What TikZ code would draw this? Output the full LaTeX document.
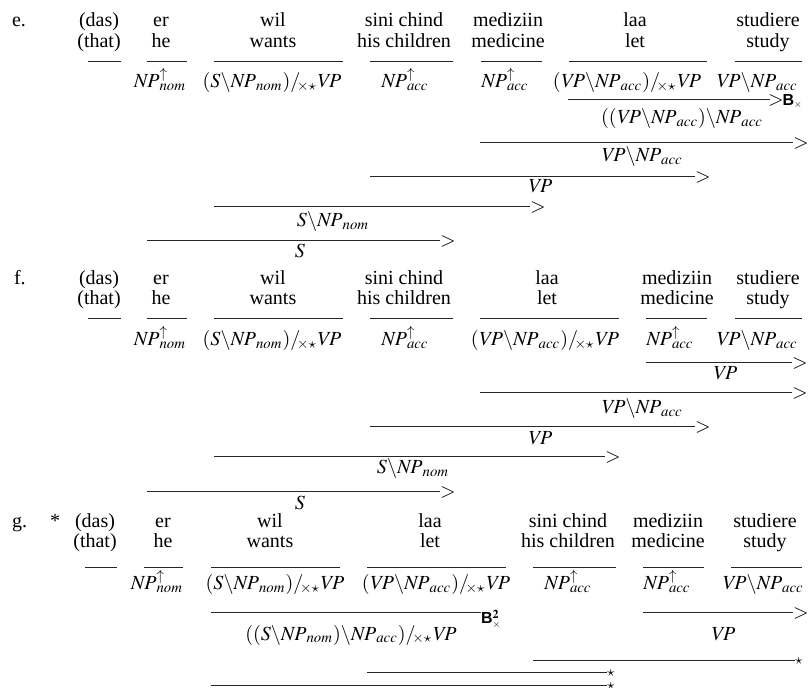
\documentclass[tikz,border=0pt]{standalone}
\usepackage{mathptmx}
\usepackage{fontspec}
\setmainfont{Liberation Serif}
\setsansfont{Liberation Sans}
\newcommand\ccgrule[4]{\coordinate (#1L) at (#2,#4); \coordinate (#1R) at (#3,#4); \draw[rl] (#1L) -- (#1R);}
\newcommand\ccgfwd[1]{\node[tip] (#1G) at (#1R) {$>$};}
\newcommand\ccgstar[1]{\node[tip] (#1G) at (#1R) {$\scriptstyle\star$};}
\newcommand\xsl{/_{\!\!\times\star}}
\newcommand\bs{\backslash}
\newcommand\cVP{\mathit{VP}}
\newcommand\cNP{\mathit{NP}}
\newcommand\cS{\mathit{S}}
\newcommand\nomi{_{\mathit{nom}}}
\newcommand\accu{_{\mathit{acc}}}
\begin{document}
\begin{tikzpicture}[x=0.5pt,y=-0.5pt,font=\fontsize{10}{11}\selectfont,
  wd/.style={anchor=base,inner sep=0pt,outer sep=0pt},
  rl/.style={line width=0.5pt,draw=black!85},
  tip/.style={anchor=west,inner sep=0pt,outer sep=0pt},
  rul/.style={anchor=base west,inner sep=0pt,outer sep=0pt,font=\footnotesize\sffamily\bfseries}]
\useasboundingbox (0,0) rectangle (808,688);
% ---------------- e ----------------
\node[wd,anchor=base west] (eLab) at (12,27) {e.};
\node[wd] (eW1a) at (99,27) {(das)}; \node[wd] (eW1b) at (99,48) {(that)};
\ccgrule{eX1}{88}{121}{62}
\node[wd] (eW2a) at (161,27) {er}; \node[wd] (eW2b) at (161,48) {he};
\ccgrule{eX2}{147}{187}{62}
\node[wd] (eC2) at (160,88) {$\cNP^{\uparrow}\nomi$};
\node[wd] (eW3a) at (273,27) {wil}; \node[wd] (eW3b) at (273,48) {wants};
\ccgrule{eX3}{214}{343}{62}
\node[wd] (eC3) at (272,88) {$(\cS\bs \cNP\nomi)\xsl \cVP$};
\node[wd] (eW4a) at (404,27) {sini chind}; \node[wd] (eW4b) at (404,48) {his children};
\ccgrule{eX4}{370}{453}{62}
\node[wd] (eC4) at (405,88) {$\cNP^{\uparrow}\accu$};
\node[wd] (eW5a) at (508,27) {mediziin}; \node[wd] (eW5b) at (508,48) {medicine};
\ccgrule{eX5}{481}{542}{62}
\node[wd] (eC5) at (505,88) {$\cNP^{\uparrow}\accu$};
\node[wd] (eW6a) at (635,27) {laa}; \node[wd] (eW6b) at (635,48) {let};
\ccgrule{eX6}{569}{707}{62}
\node[wd] (eC6) at (627,88) {$(\cVP\bs \cNP\accu)\xsl \cVP$};
\node[wd] (eW7a) at (768,27) {studiere}; \node[wd] (eW7b) at (768,48) {study};
\ccgrule{eX7}{735}{802}{62}
\node[wd] (eC7) at (757,88) {$\cVP\bs \cNP\accu$};
\ccgrule{eD1}{568}{770}{100}
\node[tip,xshift=-1pt] (eD1G) at (eD1R) {$>$};
\node[rul,xshift=-0.5pt] (eD1B) at (eD1G.base east) {B$_{\scriptscriptstyle\times}$};
\node[wd] (eD1T) at (682,124) {$((\cVP\bs \cNP\accu)\bs \cNP\accu$};
\ccgrule{eD2}{480}{793}{143}\ccgfwd{eD2}
\node[wd] (eD2T) at (642,162) {$\cVP\bs \cNP\accu$};
\ccgrule{eD3}{370}{695}{177}\ccgfwd{eD3}
\node[wd] (eD3T) at (540,193) {$\cVP$};
\ccgrule{eD4}{214}{530}{207}\ccgfwd{eD4}
\node[wd] (eD4T) at (333,227) {$\cS\bs \cNP\nomi$};
\ccgrule{eD5}{147}{440}{241}\ccgfwd{eD5}
\node[wd] (eD5T) at (300,258) {$\cS$};
% ---------------- f ----------------
\node[wd,anchor=base west] (fLab) at (14,285) {f.};
\node[wd] (fW1a) at (99,285) {(das)}; \node[wd] (fW1b) at (99,305) {(that)};
\ccgrule{fX1}{88}{121}{319}
\node[wd] (fW2a) at (161,285) {er}; \node[wd] (fW2b) at (161,305) {he};
\ccgrule{fX2}{147}{187}{319}
\node[wd] (fC2) at (160,346) {$\cNP^{\uparrow}\nomi$};
\node[wd] (fW3a) at (273,285) {wil}; \node[wd] (fW3b) at (273,305) {wants};
\ccgrule{fX3}{214}{343}{319}
\node[wd] (fC3) at (272,346) {$(\cS\bs \cNP\nomi)\xsl \cVP$};
\node[wd] (fW4a) at (404,285) {sini chind}; \node[wd] (fW4b) at (404,305) {his children};
\ccgrule{fX4}{370}{453}{319}
\node[wd] (fC4) at (405,346) {$\cNP^{\uparrow}\accu$};
\node[wd] (fW5a) at (547,285) {laa}; \node[wd] (fW5b) at (547,305) {let};
\ccgrule{fX5}{480}{619}{319}
\node[wd] (fC5) at (545,346) {$(\cVP\bs \cNP\accu)\xsl \cVP$};
\node[wd] (fW6a) at (677,285) {mediziin}; \node[wd] (fW6b) at (677,305) {medicine};
\ccgrule{fX6}{646}{707}{319}
\node[wd] (fC6) at (670,346) {$\cNP^{\uparrow}\accu$};
\node[wd] (fW7a) at (768,285) {studiere}; \node[wd] (fW7b) at (768,305) {study};
\ccgrule{fX7}{735}{802}{319}
\node[wd] (fC7) at (757,346) {$\cVP\bs \cNP\accu$};
\ccgrule{fD1}{646}{792}{363}\ccgfwd{fD1}
\node[wd] (fD1T) at (725,380) {$\cVP$};
\ccgrule{fD2}{480}{792}{393}\ccgfwd{fD2}
\node[wd] (fD2T) at (642,414) {$\cVP\bs \cNP\accu$};
\ccgrule{fD3}{370}{695}{427}\ccgfwd{fD3}
\node[wd] (fD3T) at (540,445) {$\cVP$};
\ccgrule{fD4}{214}{605}{457}\ccgfwd{fD4}
\node[wd] (fD4T) at (413,474) {$\cS\bs \cNP\nomi$};
\ccgrule{fD5}{147}{440}{492}\ccgfwd{fD5}
\node[wd] (fD5T) at (300,510) {$\cS$};
% ---------------- g ----------------
\node[wd,anchor=base west] (gLab) at (12,528) {g.};
\node[wd] (gAst) at (55,528) {*};
\node[wd] (gW1a) at (95,528) {(das)}; \node[wd] (gW1b) at (95,548) {(that)};
\ccgrule{gX1}{85}{117}{568}
\node[wd] (gW2a) at (163,528) {er}; \node[wd] (gW2b) at (163,548) {he};
\ccgrule{gX2}{144}{183}{568}
\node[wd] (gC2) at (157,590) {$\cNP^{\uparrow}\nomi$};
\node[wd] (gW3a) at (270,528) {wil}; \node[wd] (gW3b) at (270,548) {wants};
\ccgrule{gX3}{211}{340}{568}
\node[wd] (gC3) at (275,590) {$(\cS\bs \cNP\nomi)\xsl \cVP$};
\node[wd] (gW4a) at (430,528) {laa}; \node[wd] (gW4b) at (430,548) {let};
\ccgrule{gX4}{367}{506}{568}
\node[wd] (gC4) at (436,590) {$(\cVP\bs \cNP\accu)\xsl \cVP$};
\node[wd] (gW5a) at (568,528) {sini chind}; \node[wd] (gW5b) at (568,548) {his children};
\ccgrule{gX5}{533}{616}{568}
\node[wd] (gC5) at (568,590) {$\cNP^{\uparrow}\accu$};
\node[wd] (gW6a) at (668,528) {mediziin}; \node[wd] (gW6b) at (668,548) {medicine};
\ccgrule{gX6}{643}{704}{568}
\node[wd] (gC6) at (667,590) {$\cNP^{\uparrow}\accu$};
\node[wd] (gW7a) at (765,528) {studiere}; \node[wd] (gW7b) at (765,548) {study};
\ccgrule{gX7}{731}{802}{568}
\node[wd] (gC7) at (763,590) {$\cVP\bs \cNP\accu$};
\ccgrule{gD1}{211}{481}{613}
\node[rul,yshift=-5.5pt] (gD1B) at (gD1R) {B$^{\mathbf{2}}_{\scriptscriptstyle\times}$};
\node[wd] (gD1T) at (351,640) {$((\cS\bs \cNP\nomi)\bs \cNP\accu)\xsl \cVP$};
\ccgrule{gD2}{643}{793}{613}\ccgfwd{gD2}
\node[wd] (gD2T) at (723,641) {$\cVP$};
\ccgrule{gD3}{533}{795}{661}\ccgstar{gD3}
\ccgrule{gD4}{367}{607}{673}\ccgstar{gD4}
\ccgrule{gD5}{211}{607}{686}\ccgstar{gD5}
\end{tikzpicture}
\end{document}
